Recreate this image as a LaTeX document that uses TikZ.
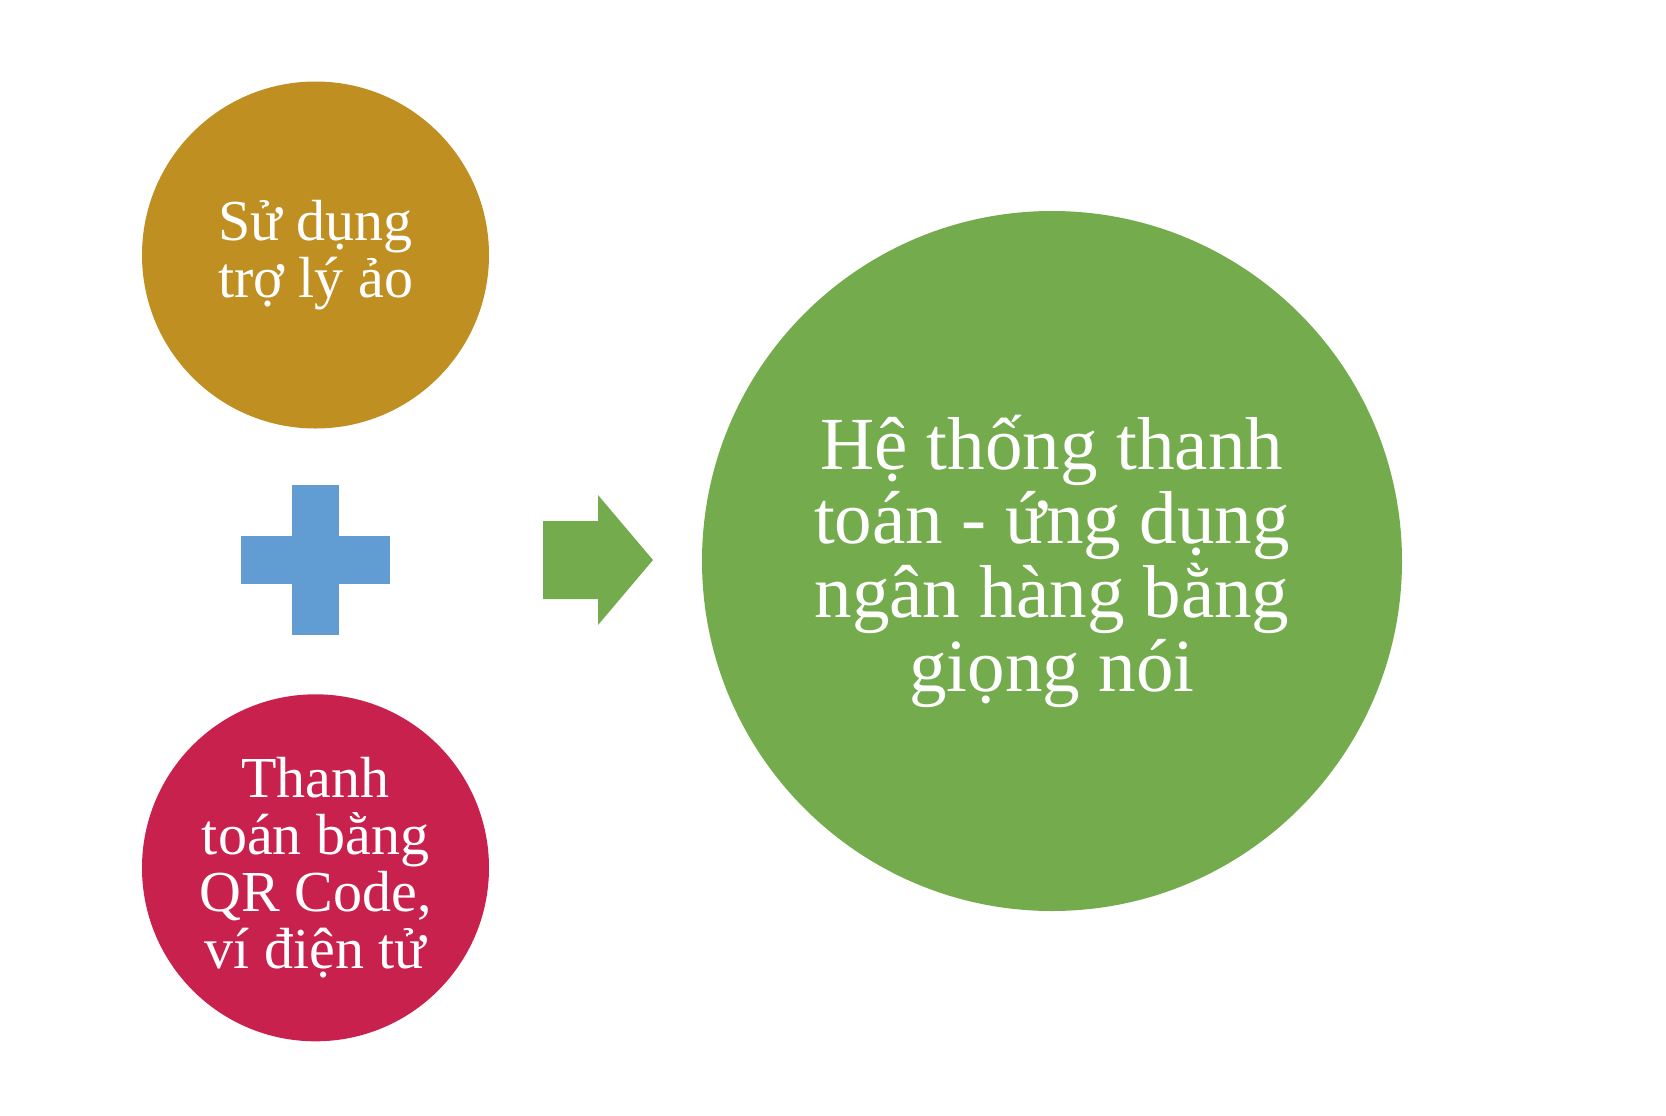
\documentclass[tikz,border=0pt]{standalone}
\usepackage{fontspec}
\setmainfont{Liberation Serif}
\usetikzlibrary{positioning}
\definecolor{gold}{HTML}{BF8F22}
\definecolor{crimson}{HTML}{C9214D}
\definecolor{leaf}{HTML}{74AC4D}
\definecolor{sky}{HTML}{619DD3}

\begin{document}
\begin{tikzpicture}[x=0.5pt,y=-0.5pt,
	bubble/.style={circle,inner sep=0pt,text=white,align=center,minimum size=173.5pt,font=\fontsize{29pt}{28.5pt}\selectfont},
	bigbubble/.style={bubble,minimum size=350pt,font=\fontsize{37.5pt}{37pt}\selectfont}]
	\useasboundingbox (0,0) rectangle (1666,1115);
	\node[bubble,fill=gold] (a0) at (315.5,255) {Sử dụng\\trợ lý ảo};
	\node[bubble,fill=crimson,below=132.5pt of a0] (a1) {Thanh\\toán bằng\\QR Code,\\ví điện tử};
	\node[bigbubble,fill=leaf] (ah) at (1052,561) {Hệ thống thanh\\toán - ứng dụng\\ngân hàng bằng\\giọng nói};
	% plus
	\coordinate (pm) at (315.5,560);
	\fill[sky] ([shift={(-74.5,-24)}]pm) rectangle ([shift={(74.5,24)}]pm);
	\fill[sky] ([shift={(-23.5,-75)}]pm) rectangle ([shift={(23.5,75)}]pm);
	% arrow
	\coordinate (am) at (598,560);
	\fill[leaf] (am) ++(-55,-39) -- ++(55,0) -- ++(0,-26) -- ++(55,65) -- ++(-55,65) -- ++(0,-26) -- ++(-55,0) -- cycle;
\end{tikzpicture}
\end{document}
